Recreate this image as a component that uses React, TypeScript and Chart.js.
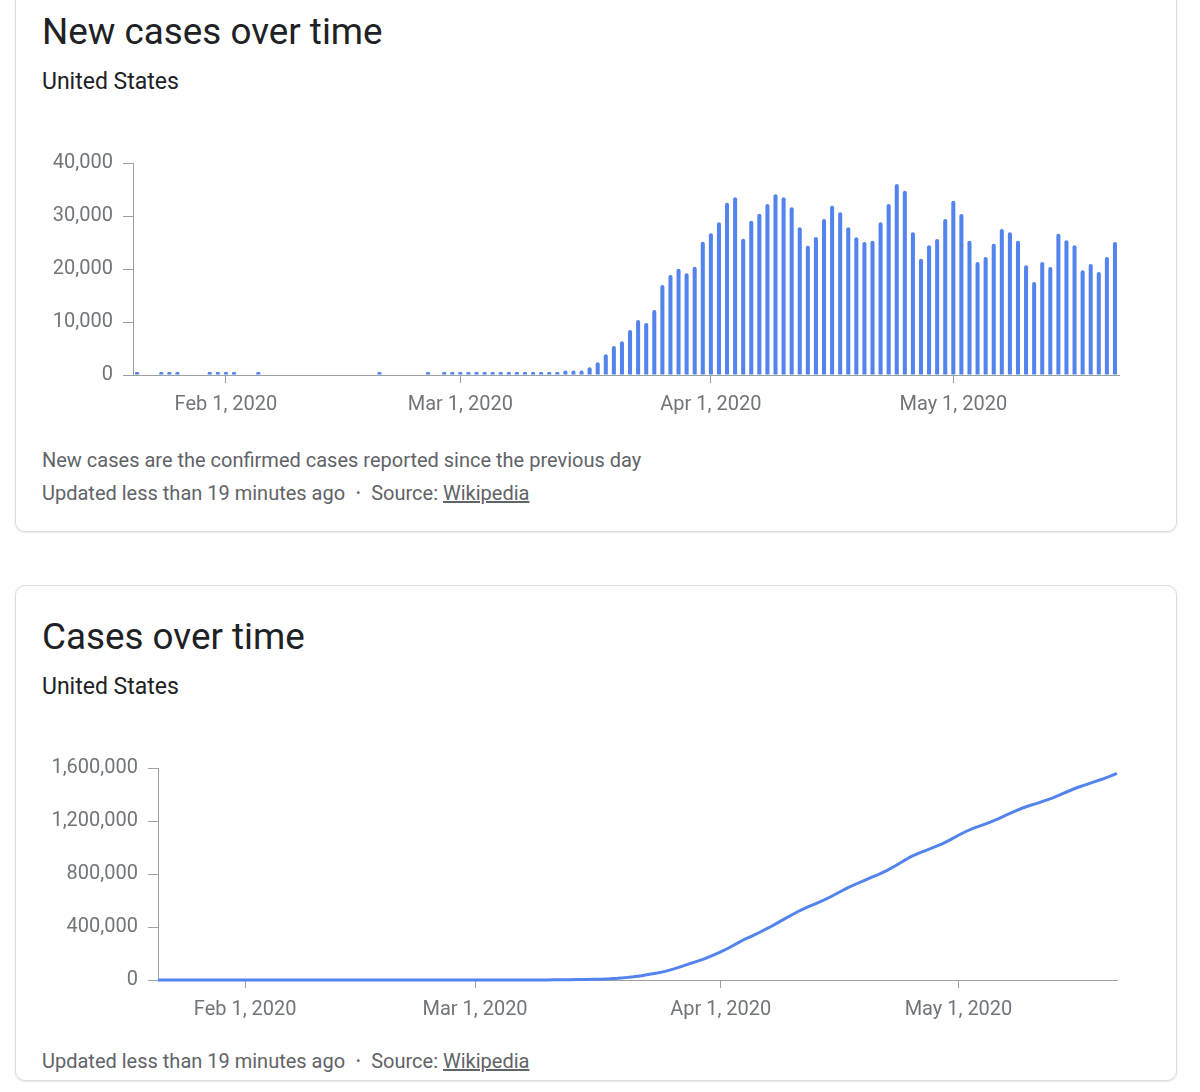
import React, { useEffect, useRef } from "react";
import { Chart, registerables } from "chart.js";

Chart.register(...registerables);

// ---- Categories (one per day, Jan 21 – May 21, 2020) ----
const monthNames = ["Jan", "Feb", "Mar", "Apr", "May"];
const monthSpans: [number, number, number][] = [
  [0, 21, 31],
  [1, 1, 29],
  [2, 1, 31],
  [3, 1, 30],
  [4, 1, 21],
];
const dayLabels: string[] = [];
for (const [m, a, b] of monthSpans) {
  for (let d = a; d <= b; d++) dayLabels.push(`${monthNames[m]} ${d}, 2020`);
}

// Tick labels shown on the x axes
const xTickLabels = ["Feb 1, 2020", "Mar 1, 2020", "Apr 1, 2020", "May 1, 2020"];
// y tick values
const newCasesYTicks = [0, 10000, 20000, 30000, 40000];
const totalCasesYTicks = [0, 400000, 800000, 1200000, 1600000];

// ---- New cases per day ----
const newCasesJan = [1, null, null, 1, 1, 2, null, null, null, 1, 1];
const newCasesFeb = [
  1, 3, null, null, 1, null, null, null, null, null, null, null, null, null,
  null, null, null, null, null, 1, null, null, null, null, null, 1, null, 3, 4,
];
const newCasesMar = [
  8, 20, 24, 30, 70, 60, 100, 110, 150, 250, 300, 500, 550, 850, 850, 850,
  1450, 2400, 3900, 5470, 6350, 8490, 10380, 9810, 12270, 16980, 18870, 20070,
  19180, 20440, 25160,
];
const newCasesApr = [
  26730, 28810, 32520, 33530, 25730, 29120, 30440, 32270, 34090, 33530, 31640,
  27870, 24410, 26040, 29440, 31950, 30700, 27870, 25980, 25100, 25350, 28810,
  32270, 36040, 34780, 26920, 21950, 24470, 25660, 29440,
];
const newCasesMay = [
  32900, 30380, 25350, 21320, 22270, 24780, 27550, 26920, 25350, 20690, 17550,
  21320, 20380, 26670, 25410, 24470, 19750, 20950, 19440, 22270, 25100,
];

// ---- Total (cumulative) cases ----
const totalJan = [1, 1, 1, 2, 3, 5, 5, 5, 5, 6, 7];
const totalFeb = [
  8, 11, 11, 11, 12, 12, 12, 12, 12, 12, 12, 12, 12, 12, 12, 12, 12, 12, 12, 13,
  13, 13, 13, 13, 13, 14, 14, 17, 21,
];
const totalMar = [
  29, 49, 73, 103, 173, 233, 333, 443, 593, 843, 1143, 1643, 2193, 3043, 3893,
  4743, 6193, 8593, 12490, 17960, 24310, 32800, 43180, 52990, 65260, 82240,
  101110, 121180, 140360, 160800, 185960,
];
const totalApr = [
  212690, 241500, 274020, 307550, 333280, 362400, 392840, 425110, 459200,
  492730, 524370, 552240, 576650, 602690, 632130, 664080, 694780, 722650,
  748630, 773730, 799080, 827890, 860160, 896200, 930980, 957900, 979850,
  1004320, 1029980, 1059420,
];
const totalMay = [
  1092320, 1122700, 1148050, 1169370, 1191640, 1216420, 1243970, 1270890,
  1296240, 1316930, 1334480, 1355800, 1376180, 1402850, 1428260, 1452730,
  1472480, 1493430, 1512870, 1535140, 1560240,
];

const newCases = [...newCasesJan, ...newCasesFeb, ...newCasesMar, ...newCasesApr, ...newCasesMay];
const totalCases = [...totalJan, ...totalFeb, ...totalMar, ...totalApr, ...totalMay];

const BLUE = "#5383ec";
const AXIS = "#9aa0a6";
const TICK_TEXT = "#70757a";
const FONT = "Roboto, 'Noto Sans', Arial, sans-serif";

function xAxis(height: number) {
  return {
    type: "category" as const,
    afterFit: (s: any) => {
      s.height = height;
    },
    grid: {
      offset: false,
      drawOnChartArea: false,
      drawTicks: true,
      tickLength: 8,
      lineWidth: 1,
      color: (ctx: any) =>
        xTickLabels.includes(dayLabels[ctx.index]) ? AXIS : "rgba(0,0,0,0)",
    },
    border: { display: true, color: AXIS, width: 1 },
    ticks: {
      autoSkip: false,
      maxRotation: 0,
      minRotation: 0,
      padding: 10,
      color: TICK_TEXT,
      font: { family: FONT, size: 20 },
      callback: (_v: any, i: number) =>
        xTickLabels.includes(dayLabels[i]) ? dayLabels[i] : "",
    },
  };
}

function yAxis(width: number, ticksArr: number[]) {
  return {
    min: ticksArr[0],
    max: ticksArr[ticksArr.length - 1],
    afterFit: (s: any) => {
      s.width = width;
    },
    afterBuildTicks: (s: any) => {
      s.ticks = ticksArr.map((v) => ({ value: v }));
    },
    grid: {
      drawOnChartArea: false,
      drawTicks: true,
      tickLength: 10,
      color: AXIS,
    },
    border: { display: true, color: AXIS, width: 1 },
    ticks: {
      padding: 10,
      color: TICK_TEXT,
      font: { family: FONT, size: 20 },
      callback: (v: any) => Number(v).toLocaleString("en-US"),
    },
  };
}

function NewCasesChart() {
  const ref = useRef<HTMLCanvasElement | null>(null);
  useEffect(() => {
    if (!ref.current) return;
    const chart = new Chart(ref.current, {
      type: "bar",
      data: {
        labels: dayLabels,
        datasets: [
          {
            data: newCases as any,
            backgroundColor: BLUE,
            categoryPercentage: 1,
            barPercentage: 0.5,
            borderRadius: 2,
            minBarLength: 3,
          },
        ],
      },
      options: {
        responsive: false,
        animation: false,
        layout: { padding: { top: 23, right: 11, left: 0, bottom: 0 } },
        plugins: { legend: { display: false }, tooltip: { enabled: false } },
        scales: {
          x: { ...xAxis(55), offset: true } as any,
          y: yAxis(103, newCasesYTicks) as any,
        },
      },
    });
    return () => chart.destroy();
  }, []);
  return (
    <canvas
      ref={ref}
      width={1100}
      height={290}
      style={{ position: "absolute", left: 30, top: 140, width: 1100, height: 290 }}
    />
  );
}

function TotalCasesChart() {
  const ref = useRef<HTMLCanvasElement | null>(null);
  useEffect(() => {
    if (!ref.current) return;
    const chart = new Chart(ref.current, {
      type: "line",
      data: {
        labels: dayLabels,
        datasets: [
          {
            data: totalCases,
            borderColor: BLUE,
            borderWidth: 3,
            pointRadius: 0,
            fill: false,
            tension: 0,
            clip: false as any,
          },
        ],
      },
      options: {
        responsive: false,
        animation: false,
        layout: { padding: { top: 23, right: 13, left: 0, bottom: 0 } },
        plugins: { legend: { display: false }, tooltip: { enabled: false } },
        scales: {
          x: { ...xAxis(55), offset: false } as any,
          y: yAxis(128, totalCasesYTicks) as any,
        },
      },
    });
    return () => chart.destroy();
  }, []);
  return (
    <canvas
      ref={ref}
      width={1100}
      height={290}
      style={{ position: "absolute", left: 30, top: 745, width: 1100, height: 290 }}
    />
  );
}

const textBase: React.CSSProperties = {
  position: "absolute",
  left: 42,
  fontFamily: FONT,
  lineHeight: 1,
  whiteSpace: "nowrap",
  margin: 0,
};

function Footer({ top }: { top: number }) {
  return (
    <div style={{ ...textBase, top, fontSize: 20, color: "#5f6368" }}>
      Updated less than 19 minutes ago
      <span style={{ margin: "0 11px", fontSize: 12, position: "relative", top: -3 }}>•</span>
      Source: <span style={{ textDecoration: "underline" }}>Wikipedia</span>
    </div>
  );
}

export default function App() {
  const card: React.CSSProperties = {
    position: "absolute",
    left: 15,
    width: 1162,
    boxSizing: "border-box",
    border: "1px solid #dadce0",
    borderRadius: 10,
    background: "#fff",
    boxShadow: "0 1px 2px rgba(60,64,67,0.12)",
  };
  return (
    <div
      style={{
        position: "fixed",
        left: 0,
        top: 0,
        width: 1200,
        height: 1092,
        overflow: "hidden",
        background: "#fff",
      }}
    >
      <div style={{ ...card, top: -20, height: 552 }} />
      <div style={{ ...card, top: 585, height: 496 }} />

      <div style={{ ...textBase, top: 14, fontSize: 36.8, color: "#202124" }}>New cases over time</div>
      <div style={{ ...textBase, top: 70, fontSize: 23, color: "#202124" }}>United States</div>
      <NewCasesChart />
      <div style={{ ...textBase, top: 450, fontSize: 20, color: "#5f6368" }}>
        New cases are the confirmed cases reported since the previous day
      </div>
      <Footer top={483} />

      <div style={{ ...textBase, top: 619, fontSize: 36.8, color: "#202124" }}>Cases over time</div>
      <div style={{ ...textBase, top: 675, fontSize: 23, color: "#202124" }}>United States</div>
      <TotalCasesChart />
      <Footer top={1051} />
    </div>
  );
}
